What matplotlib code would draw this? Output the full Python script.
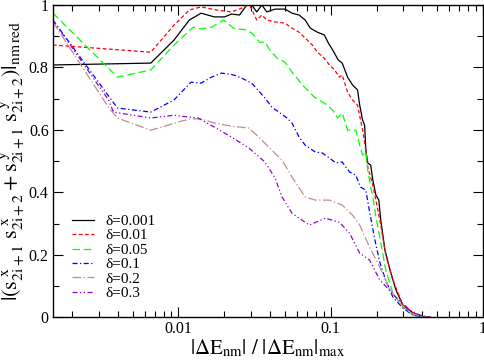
import matplotlib
matplotlib.use("Agg")
import matplotlib.pyplot as plt
from matplotlib.ticker import FixedLocator, MultipleLocator, NullFormatter, LogLocator

plt.rcParams["font.family"] = ["Liberation Serif", "DejaVu Serif"]
plt.rcParams["mathtext.fontset"] = "stix"

labels = ["δ=0.001", "δ=0.01", "δ=0.05", "δ=0.1", "δ=0.2", "δ=0.3"]

x_001 = [0.0015, 0.00659, 0.00937, 0.0118, 0.0141, 0.0172, 0.0201, 0.0223, 0.0252, 0.0281,
         0.0303, 0.0327, 0.0353, 0.0381, 0.0431, 0.0501, 0.0557, 0.0620, 0.0680, 0.0734,
         0.0817, 0.0908, 0.0966, 0.103, 0.112, 0.119, 0.129, 0.139, 0.150, 0.155,
         0.162, 0.167, 0.170, 0.175, 0.183, 0.189, 0.198, 0.207, 0.213, 0.227,
         0.245, 0.268, 0.298, 0.348, 0.405, 0.45]
y_001 = [0.808, 0.814, 0.888, 0.952, 0.974, 0.962, 0.962, 0.971, 0.968, 1.0,
         1.0, 0.978, 1.0, 0.978, 0.987, 0.987, 0.974, 0.968, 0.952, 0.926,
         0.913, 0.904, 0.878, 0.856, 0.824, 0.814, 0.769, 0.744, 0.728, 0.679,
         0.631, 0.615, 0.535, 0.494, 0.487, 0.439, 0.391, 0.375, 0.311, 0.215,
         0.151, 0.087, 0.038, 0.013, 0.002, 0.0]

x_01 = [0.0015, 0.00659, 0.00937, 0.0118, 0.0141, 0.0178, 0.0223, 0.0260, 0.0281, 0.0294,
        0.0327, 0.0353, 0.0381, 0.0431, 0.0501, 0.0557, 0.0620, 0.0680, 0.0757, 0.0817,
        0.0908, 0.0980, 0.106, 0.114, 0.119, 0.129, 0.139, 0.150, 0.162, 0.170,
        0.175, 0.189, 0.204, 0.213, 0.230, 0.256, 0.298, 0.348, 0.405, 0.45]
y_01 = [0.872, 0.849, 0.936, 0.984, 0.994, 0.984, 0.978, 0.990, 1.0, 1.0,
        0.952, 0.968, 0.952, 0.946, 0.942, 0.926, 0.913, 0.894, 0.872, 0.849,
        0.830, 0.808, 0.792, 0.769, 0.776, 0.721, 0.696, 0.679, 0.599, 0.535,
        0.481, 0.423, 0.343, 0.295, 0.199, 0.119, 0.038, 0.013, 0.002, 0.0]

x_05 = [0.0015, 0.00398, 0.00659, 0.00937, 0.0125, 0.0141, 0.0165, 0.0198, 0.0230, 0.0281,
        0.0303, 0.0342, 0.0370, 0.0399, 0.0444, 0.0501, 0.0557, 0.0601, 0.0650, 0.0701,
        0.0780, 0.0881, 0.0951, 0.103, 0.111, 0.119, 0.129, 0.139, 0.146, 0.155,
        0.162, 0.170, 0.175, 0.183, 0.189, 0.198, 0.210, 0.230, 0.256, 0.298,
        0.348, 0.405, 0.45]
y_05 = [0.974, 0.769, 0.792, 0.872, 0.929, 0.923, 0.929, 0.952, 0.926, 0.920,
        0.910, 0.881, 0.881, 0.856, 0.830, 0.817, 0.785, 0.766, 0.744, 0.728,
        0.705, 0.689, 0.679, 0.663, 0.638, 0.654, 0.599, 0.599, 0.599, 0.551,
        0.519, 0.529, 0.471, 0.417, 0.385, 0.321, 0.256, 0.150, 0.077, 0.032,
        0.006, 0.001, 0.0]

x_1 = [0.0015, 0.00398, 0.00659, 0.00937, 0.0121, 0.0141, 0.0165, 0.0192, 0.0230, 0.0260,
       0.0303, 0.0342, 0.0370, 0.0411, 0.0465, 0.0517, 0.0557, 0.0620, 0.0680, 0.0792,
       0.0881, 0.0980, 0.108, 0.119, 0.133, 0.146, 0.157, 0.170, 0.180, 0.195,
       0.210, 0.227, 0.256, 0.298, 0.348, 0.405, 0.45]
y_1 = [0.952, 0.670, 0.657, 0.696, 0.753, 0.750, 0.769, 0.782, 0.776, 0.766,
       0.750, 0.721, 0.702, 0.673, 0.654, 0.638, 0.622, 0.577, 0.551, 0.529,
       0.526, 0.510, 0.494, 0.497, 0.465, 0.455, 0.417, 0.407, 0.337, 0.247,
       0.176, 0.125, 0.064, 0.029, 0.006, 0.001, 0.0]

x_2 = [0.0015, 0.00348, 0.00398, 0.00659, 0.00855, 0.0104, 0.0121, 0.0141, 0.0172, 0.0223,
       0.0290, 0.0337, 0.0411, 0.0479, 0.0557, 0.0680, 0.0792, 0.0980, 0.119, 0.139,
       0.155, 0.180, 0.210, 0.245, 0.285, 0.332, 0.405, 0.45]
y_2 = [0.946, 0.672, 0.638, 0.599, 0.615, 0.628, 0.635, 0.635, 0.622, 0.612,
       0.606, 0.577, 0.535, 0.503, 0.449, 0.385, 0.375, 0.375, 0.359, 0.327,
       0.295, 0.224, 0.160, 0.087, 0.045, 0.013, 0.001, 0.0]

x_3 = [0.0015, 0.00348, 0.00375, 0.00659, 0.00937, 0.0104, 0.0135, 0.0172, 0.0223, 0.0290,
       0.0370, 0.0431, 0.0479, 0.0557, 0.0723, 0.0922, 0.114, 0.133, 0.155, 0.180,
       0.210, 0.268, 0.332, 0.387, 0.45]
y_3 = [0.952, 0.696, 0.657, 0.638, 0.647, 0.644, 0.638, 0.609, 0.577, 0.542,
       0.497, 0.446, 0.385, 0.333, 0.295, 0.317, 0.304, 0.269, 0.205, 0.183,
       0.119, 0.064, 0.022, 0.006, 0.0]

series = [(x_001, y_001), (x_01, y_01), (x_05, y_05), (x_1, y_1), (x_2, y_2), (x_3, y_3)]
colors = ["black", "#ff0000", "#00ff00", "#0000ff", "#bc8f8f", "#9400d3"]
dashes = [(), (3, 2), (6, 3), (4, 2, 1, 2), (7, 2, 1, 2), (4, 2, 1, 2, 1, 2)]

fig = plt.figure(figsize=(4.85, 3.6), dpi=100)
ax = fig.add_axes([0.109, 0.119, 0.887, 0.867])

for (xs, ys), c, d, lab in zip(series, colors, dashes, labels):
    line, = ax.plot(xs, ys, color=c, lw=0.9, label=lab)
    if d:
        line.set_dashes(d)

ax.set_xscale("log")
ax.set_xlim(0.0015, 1)
ax.set_ylim(0, 1)
ax.xaxis.set_major_locator(FixedLocator([0.01, 0.1, 1]))
ax.set_xticklabels(["0.01", "0.1", "1"])
ax.xaxis.set_minor_locator(LogLocator(base=10, subs=range(2, 10)))
ax.xaxis.set_minor_formatter(NullFormatter())
ax.yaxis.set_minor_locator(MultipleLocator(0.1))
ax.set_yticks([0, 0.2, 0.4, 0.6, 0.8, 1])
ax.set_yticklabels(["0", "0.2", "0.4", "0.6", "0.8", "1"])
ax.tick_params(which="both", direction="in", top=True, right=True, labelsize=11.5, pad=3)
ax.tick_params(which="major", length=7, width=0.8)
ax.tick_params(which="minor", length=4, width=0.8)
for s in ax.spines.values():
    s.set_linewidth(1.0)

ax.set_xlabel(r"$|\Delta\mathrm{E}_{\mathrm{nm}}|\ /\ |\Delta\mathrm{E}_{\mathrm{nm}}|_{\mathrm{max}}$",
              fontsize=15, labelpad=0)
ax.set_ylabel(r"$|(\mathrm{s}_{\mathrm{2i+1}}^{\ \mathrm{x}}\ \mathrm{s}_{\mathrm{2i+2}}^{\ \mathrm{x}}"
              r" + \mathrm{s}_{\mathrm{2i+1}}^{\ \mathrm{y}}\ \mathrm{s}_{\mathrm{2i+2}}^{\ \mathrm{y}})|_{\mathrm{nm\,red}}$",
              fontsize=16, labelpad=0)
ax.yaxis.set_label_coords(-0.058, 0.5)

ax.legend(loc="lower left", bbox_to_anchor=(0.02, 0.02), frameon=False, fontsize=11,
          handlelength=1.4, handletextpad=0.8, labelspacing=0.05, borderpad=0.2)

fig.savefig("out.png", dpi=100)
